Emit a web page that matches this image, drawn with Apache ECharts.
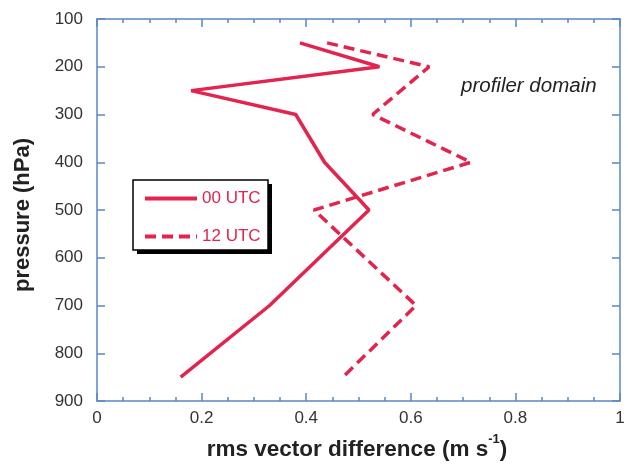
<!DOCTYPE html>
<html>
<head>
<meta charset="utf-8">
<script src="https://cdn.jsdelivr.net/npm/echarts@6/dist/echarts.min.js"></script>
<style>
html,body{margin:0;padding:0;background:#fff;}
#chart{width:628px;height:468px;}
</style>
</head>
<body>
<div id="chart"></div>
<script>
// Data
const seriesNames = ['00 UTC', '12 UTC'];
const pressure00 = [150, 200, 250, 300, 400, 500, 700, 850];
const rms00 = [0.388, 0.54, 0.18, 0.38, 0.435, 0.52, 0.33, 0.16];
const pressure12 = [150, 200, 300, 400, 500, 700, 850];
const rms12 = [0.44, 0.635, 0.527, 0.715, 0.415, 0.61, 0.47];
const xTicks = [0, 0.2, 0.4, 0.6, 0.8, 1];
const yTicks = [100, 200, 300, 400, 500, 600, 700, 800, 900];
const xTitle = 'rms vector difference (m s';
const xTitleSup = '-1';
const yTitle = 'pressure (hPa)';
const annotation = 'profiler domain';

const FONT = '"Liberation Sans", Arial, Helvetica, sans-serif';
const RED = '#e2244f';
const AXIS = '#5a87c2';

const chart = echarts.init(document.getElementById('chart'), null, {renderer: 'canvas'});

function xAx(pos, showLabel) {
  return {
    type: 'value', position: pos,
    min: xTicks[0], max: xTicks[xTicks.length - 1], interval: 0.2,
    axisLine: {show: true, onZero: false, lineStyle: {color: AXIS, width: 1.5}},
    axisTick: {show: true, inside: true, length: 8, lineStyle: {color: AXIS, width: 1.5}},
    minorTick: {show: true, splitNumber: 4, length: 4, lineStyle: {color: AXIS, width: 1.5}},
    splitLine: {show: false},
    axisLabel: {show: showLabel, fontSize: 17, color: '#333', fontFamily: FONT, margin: 9}
  };
}
function yAx(pos, showLabel) {
  return {
    type: 'value', position: pos, inverse: true,
    min: yTicks[0], max: yTicks[yTicks.length - 1], interval: 100,
    axisLine: {show: true, onZero: false, lineStyle: {color: AXIS, width: 1.5}},
    axisTick: {show: true, inside: true, length: 8, lineStyle: {color: AXIS, width: 1.5}},
    splitLine: {show: false},
    axisLabel: {show: showLabel, fontSize: 17, color: '#333', fontFamily: FONT, margin: 14}
  };
}

const option = {
  animation: false,
  backgroundColor: '#fff',
  grid: {left: 97, right: 8, top: 19, bottom: 67, containLabel: false},
  xAxis: [xAx('bottom', true), xAx('top', false)],
  yAxis: [yAx('left', true), yAx('right', false)],
  legend: {
    orient: 'vertical', left: 133, top: 180,
    itemWidth: 52, itemHeight: 18, itemGap: 21,
    padding: [10, 10, 3, 10],
    itemStyle: {opacity: 0},
    lineStyle: {width: 4},
    textStyle: {color: RED, fontSize: 17, fontFamily: FONT},
    data: seriesNames
  },
  series: [
    {
      name: seriesNames[0], type: 'line', xAxisIndex: 0, yAxisIndex: 0,
      symbol: 'none',
      lineStyle: {color: RED, width: 3.5, type: 'solid'},
      itemStyle: {color: RED},
      data: rms00.map((v, i) => [v, pressure00[i]])
    },
    {
      name: seriesNames[1], type: 'line', xAxisIndex: 0, yAxisIndex: 0,
      symbol: 'none',
      lineStyle: {color: RED, width: 3.5, type: [11, 6]},
      itemStyle: {color: RED},
      data: rms12.map((v, i) => [v, pressure12[i]])
    }
  ],
  graphic: [
    {
      type: 'rect', z: 3, shape: {x: 137, y: 184, width: 135, height: 70},
      style: {fill: '#000'}
    },
    {
      type: 'rect', z: 3, shape: {x: 133, y: 180, width: 135, height: 70},
      style: {fill: '#fff', stroke: '#000', lineWidth: 1.5}
    },
    {
      type: 'text', x: 357, y: 447, z: 5,
      style: {
        text: '{a|' + xTitle + '}{b|' + xTitleSup + '}{a|)}',
        align: 'center', verticalAlign: 'middle',
        rich: {
          a: {fontSize: 22.5, fontWeight: 'bold', fontFamily: FONT, fill: '#222', lineHeight: 28, verticalAlign: 'bottom'},
          b: {fontSize: 13, fontWeight: 'bold', fontFamily: FONT, fill: '#222', lineHeight: 28, verticalAlign: 'top'}
        }
      }
    },
    {
      type: 'text', x: 23, y: 215, rotation: Math.PI / 2, z: 5,
      style: {
        text: yTitle, align: 'center', verticalAlign: 'middle',
        font: 'bold 22px ' + FONT, fill: '#222'
      }
    },
    {
      type: 'text', x: 461, y: 86, z: 5,
      style: {
        text: annotation, align: 'left', verticalAlign: 'middle',
        font: 'italic 20.5px ' + FONT, fill: '#222'
      }
    }
  ]
};
chart.setOption(option);
</script>
</body>
</html>
